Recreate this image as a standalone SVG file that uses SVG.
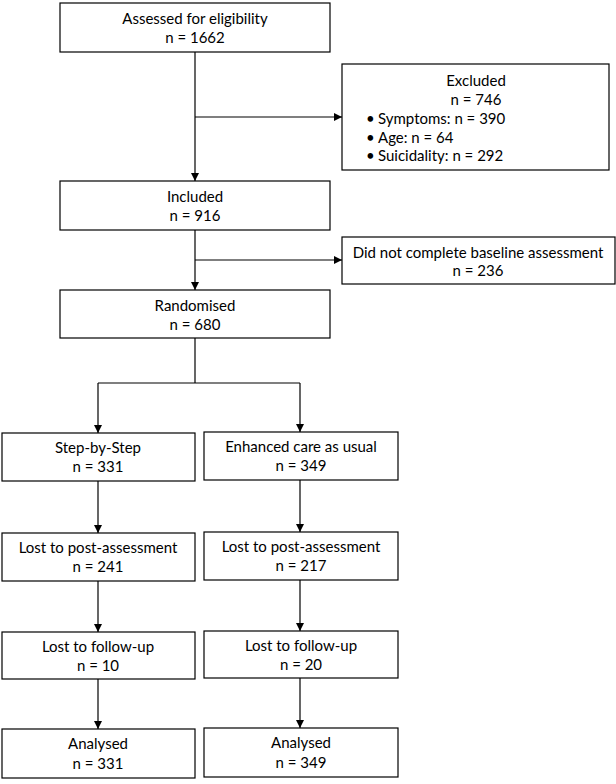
<svg xmlns="http://www.w3.org/2000/svg" width="616" height="784" viewBox="0 0 616 784">
<defs>
<style>
.b{fill:#fff;stroke:#000;stroke-width:1.2}
text{font-family:Lato,"Liberation Sans",sans-serif;font-size:15px;fill:#000;text-anchor:middle;dominant-baseline:central}
.l{text-anchor:start}
.c{fill:none;stroke:#000;stroke-width:1.2}
</style>
<marker id="ah" viewBox="0 0 10 10" refX="10" refY="5" markerWidth="8" markerHeight="8" markerUnits="userSpaceOnUse" orient="auto"><path d="M0,0 L10,5 L0,10 z" fill="#000"/></marker>
</defs>
<rect x="0" y="0" width="616" height="784" fill="#fff"/>
<g id="connectors">
<path class="c" d="M195,52 V181" marker-end="url(#ah)"/>
<path class="c" d="M195,117 H342" marker-end="url(#ah)"/>
<path class="c" d="M195,230 V290" marker-end="url(#ah)"/>
<path class="c" d="M195,260 H342" marker-end="url(#ah)"/>
<path class="c" d="M195,338 V383"/>
<path class="c" d="M98,383 H300"/>
<path class="c" d="M98,383 V433" marker-end="url(#ah)"/>
<path class="c" d="M300,383 V432" marker-end="url(#ah)"/>
<path class="c" d="M98,481 V533" marker-end="url(#ah)"/>
<path class="c" d="M300,480 V532" marker-end="url(#ah)"/>
<path class="c" d="M98,581 V632" marker-end="url(#ah)"/>
<path class="c" d="M300,580 V631" marker-end="url(#ah)"/>
<path class="c" d="M98,679 V729" marker-end="url(#ah)"/>
<path class="c" d="M300,678 V728" marker-end="url(#ah)"/>
</g>
<g id="assessed"><rect class="b" x="60" y="3" width="270" height="49"/><text x="195" y="18">Assessed for eligibility</text><text x="195" y="37">n = 1662</text></g>
<g id="excluded"><rect class="b" x="342" y="64" width="267" height="106"/>
<text x="476" y="80">Excluded</text><text x="476" y="99">n = 746</text>
<text class="l" x="366" y="118">•</text><text class="l" x="378" y="118">Symptoms: n = 390</text>
<text class="l" x="366" y="137">•</text><text class="l" x="378" y="137">Age: n = 64</text>
<text class="l" x="366" y="155">•</text><text class="l" x="378" y="155">Suicidality: n = 292</text></g>
<g id="included"><rect class="b" x="60" y="181" width="270" height="49"/><text x="195" y="196">Included</text><text x="195" y="215">n = 916</text></g>
<g id="baseline"><rect class="b" x="342" y="237" width="273" height="47"/><text x="478" y="252">Did not complete baseline assessment</text><text x="478" y="270">n = 236</text></g>
<g id="randomised"><rect class="b" x="60" y="290" width="270" height="48"/><text x="195" y="305">Randomised</text><text x="195" y="324">n = 680</text></g>
<g id="sbs"><rect class="b" x="2" y="433" width="193" height="48"/><text x="98" y="447">Step-by-Step</text><text x="98" y="466">n = 331</text></g>
<g id="ecau"><rect class="b" x="204" y="432" width="194" height="48"/><text x="301" y="446">Enhanced care as usual</text><text x="301" y="465">n = 349</text></g>
<g id="post1"><rect class="b" x="2" y="533" width="193" height="48"/><text x="98" y="547">Lost to post-assessment</text><text x="98" y="566">n = 241</text></g>
<g id="post2"><rect class="b" x="204" y="532" width="194" height="48"/><text x="301" y="546">Lost to post-assessment</text><text x="301" y="565">n = 217</text></g>
<g id="fu1"><rect class="b" x="2" y="632" width="193" height="47"/><text x="98" y="646">Lost to follow-up</text><text x="98" y="665">n = 10</text></g>
<g id="fu2"><rect class="b" x="204" y="631" width="194" height="47"/><text x="301" y="645">Lost to follow-up</text><text x="301" y="664">n = 20</text></g>
<g id="an1"><rect class="b" x="2" y="729" width="193" height="49"/><text x="98" y="743">Analysed</text><text x="98" y="763">n = 331</text></g>
<g id="an2"><rect class="b" x="204" y="728" width="194" height="49"/><text x="301" y="742">Analysed</text><text x="301" y="762">n = 349</text></g>
</svg>
